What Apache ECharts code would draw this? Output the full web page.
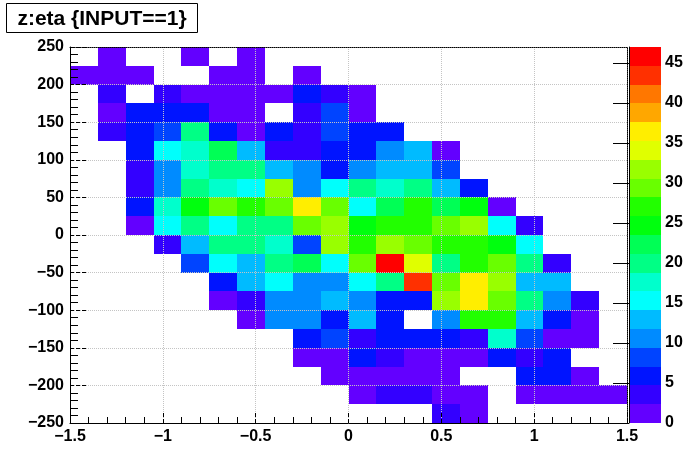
<!DOCTYPE html>
<html>
<head>
<meta charset="utf-8">
<script src="https://cdn.jsdelivr.net/npm/echarts@6/dist/echarts.min.js"></script>
<style>
html,body{margin:0;padding:0;background:#fff;}
#c{width:696px;height:472px;}
</style>
</head>
<body>
<div id="c"></div>
<script>
// ---- data ----
const titleText = 'z:eta {INPUT==1}';
const etaCenters = [-1.425, -1.275, -1.125, -0.975, -0.825, -0.675, -0.525, -0.375, -0.225, -0.075,
                     0.075, 0.225, 0.375, 0.525, 0.675, 0.825, 0.975, 1.125, 1.275, 1.425];
const zCenters = [237.5, 212.5, 187.5, 162.5, 137.5, 112.5, 87.5, 62.5, 37.5, 12.5,
                  -12.5, -37.5, -62.5, -87.5, -112.5, -137.5, -162.5, -187.5, -212.5, -237.5];
// counts[row][col]; rows follow zCenters (top to bottom), columns follow etaCenters
const counts = [
  [0,1,0,0,1,0,1,0,0,0, 0,0,0,0,0,0,0,0,0,0],
  [1,1,1,0,0,1,1,0,1,0, 0,0,0,0,0,0,0,0,0,0],
  [0,3,0,3,1,1,1,1,6,3, 1,0,0,0,0,0,0,0,0,0],
  [0,1,6,6,6,1,1,0,3,8, 1,0,0,0,0,0,0,0,0,0],
  [0,3,6,8,20,6,1,6,3,8, 6,6,0,0,0,0,0,0,0,0],
  [0,0,6,15,18,22,13,3,3,6, 6,10,13,1,0,0,0,0,0,0],
  [0,0,3,10,18,20,20,13,10,6, 10,13,13,8,0,0,0,0,0,0],
  [0,0,3,10,20,18,15,32,10,15, 20,18,20,13,6,0,0,0,0,0],
  [0,0,6,18,25,29,27,29,36,29, 15,22,27,22,25,1,0,0,0,0],
  [0,0,1,15,20,15,20,20,29,32, 25,27,27,29,32,15,3,0,0,0],
  [0,0,0,3,13,20,20,18,8,32, 27,32,29,27,27,25,15,0,0,0],
  [0,0,0,0,8,15,13,20,22,15, 29,47,34,20,27,29,20,3,0,0],
  [0,0,0,0,0,6,13,15,10,10, 15,20,43,29,36,32,13,13,0,0],
  [0,0,0,0,0,1,3,10,10,13, 10,6,6,32,36,29,20,10,3,0],
  [0,0,0,0,0,0,1,10,10,6, 13,6,0,10,27,27,13,6,1,0],
  [0,0,0,0,0,0,0,0,6,8, 3,6,6,6,3,18,8,1,1,0],
  [0,0,0,0,0,0,0,0,1,1, 6,3,1,1,1,6,3,6,0,0],
  [0,0,0,0,0,0,0,0,0,1, 1,1,1,1,0,0,6,6,1,0],
  [0,0,0,0,0,0,0,0,0,0, 1,3,3,1,1,0,1,1,1,1],
  [0,0,0,0,0,0,0,0,0,0, 0,0,0,3,1,0,0,0,0,0]
];
const paletteTicks = [0, 5, 10, 15, 20, 25, 30, 35, 40, 45];
const zMin = 0;
const zMax = 47;
const nContours = 20;

// ---- palette (ROOT "pretty" violet->red) ----
function contourColor(k) {
  const idx = Math.floor((k + 0.99) * 50 / nContours);
  const hue = idx >= 49 ? 0 : 280 - (idx + 1) * 5.6;
  return 'hsl(' + hue.toFixed(1) + ',100%,50%)';
}
const step = (zMax - zMin) / nContours;
const pieces = [];
const bandData = [];
for (let k = 0; k < nContours; k++) {
  const lo = zMin + k * step, hi = zMin + (k + 1) * step;
  const p = { gte: lo, color: contourColor(k) };
  if (k === nContours - 1) p.lte = hi; else p.lt = hi;
  pieces.push(p);
  bandData.push([lo, hi, k]);
}

const cells = [];
counts.forEach((row, r) => row.forEach((v, c) => {
  if (v > 0) cells.push([etaCenters[c], zCenters[r], v]);
}));
const halfX = Math.abs(etaCenters[1] - etaCenters[0]) / 2;
const halfY = Math.abs(zCenters[0] - zCenters[1]) / 2;

const FONT = '"Liberation Sans", Arial, Helvetica, sans-serif';
const minus = v => String(v).replace('-', '\u2212');
const labelStyle = { fontFamily: FONT, fontWeight: 'bold', fontSize: 16, color: '#000' };

const chart = echarts.init(document.getElementById('c'), null, { renderer: 'canvas' });
chart.setOption({
  animation: false,
  backgroundColor: '#fff',
  grid: [
    { left: 70, right: 69, top: 47, bottom: 49, containLabel: false },
    { left: 629, width: 32, top: 47, bottom: 49, containLabel: false }
  ],
  visualMap: {
    type: 'piecewise', show: false, seriesIndex: 0, dimension: 2, pieces: pieces
  },
  xAxis: [
    {
      gridIndex: 0, type: 'value', min: -1.5, max: 1.5, interval: 0.5, z: 5,
      axisLine: { show: true, onZero: false, lineStyle: { color: '#000', width: 1 } },
      axisTick: { show: true, inside: true, length: 11, lineStyle: { color: '#000', type: 'dashed' } },
      minorTick: { show: true, splitNumber: 5, length: 6, lineStyle: { color: '#000' } },
      splitLine: { show: true, lineStyle: { color: '#c4c4c4', type: 'dotted' } },
      axisLabel: Object.assign({ margin: 6, formatter: minus }, labelStyle)
    },
    {
      gridIndex: 0, type: 'value', min: -1.5, max: 1.5, position: 'top', z: 5,
      axisLine: { show: true, onZero: false, lineStyle: { color: '#000', type: 'dotted' } },
      axisTick: { show: false }, axisLabel: { show: false }, splitLine: { show: false }
    },
    { gridIndex: 1, type: 'value', min: 0, max: 1, show: false }
  ],
  yAxis: [
    {
      gridIndex: 0, type: 'value', min: -250, max: 250, interval: 50, z: 5,
      axisLine: { show: true, onZero: false, lineStyle: { color: '#000', width: 1 } },
      axisTick: { show: true, inside: true, length: 16, lineStyle: { color: '#000', type: 'dashed' } },
      minorTick: { show: true, splitNumber: 5, length: 8, lineStyle: { color: '#000' } },
      splitLine: { show: true, lineStyle: { color: '#c4c4c4', type: 'dotted' } },
      axisLabel: Object.assign({ margin: 6, formatter: minus }, labelStyle)
    },
    {
      gridIndex: 0, type: 'value', min: -250, max: 250, position: 'right', z: 5,
      axisLine: { show: true, onZero: false, lineStyle: { color: '#000', type: 'dotted' } },
      axisTick: { show: false }, axisLabel: { show: false }, splitLine: { show: false }
    },
    {
      gridIndex: 1, type: 'value', min: zMin, max: zMax, interval: 5, position: 'right', z: 5,
      axisLine: { show: true, lineStyle: { color: '#000', width: 1 } },
      axisTick: { show: true, inside: true, length: 16, lineStyle: { color: '#000' },
                  customValues: paletteTicks },
      axisLabel: Object.assign({ margin: 4, customValues: paletteTicks }, labelStyle),
      splitLine: { show: false }
    }
  ],
  series: [
    {
      type: 'custom', xAxisIndex: 0, yAxisIndex: 0, z: 2,
      data: cells,
      encode: { x: 0, y: 1 },
      clip: true,
      renderItem: function (params, api) {
        const x = api.value(0), y = api.value(1);
        const p1 = api.coord([x - halfX, y + halfY]);
        const p2 = api.coord([x + halfX, y - halfY]);
        const x1 = Math.round(p1[0]), y1 = Math.round(p1[1]);
        const x2 = Math.round(p2[0]), y2 = Math.round(p2[1]);
        return { type: 'rect', shape: { x: x1, y: y1, width: x2 - x1, height: y2 - y1 },
                 style: { fill: api.visual('color'), stroke: null } };
      }
    },
    {
      type: 'custom', xAxisIndex: 2, yAxisIndex: 2, z: 2,
      data: bandData,
      encode: { y: [0, 1] },
      renderItem: function (params, api) {
        const lo = api.value(0), hi = api.value(1), k = api.value(2);
        const p1 = api.coord([0, hi]);
        const p2 = api.coord([1, lo]);
        const x1 = Math.round(p1[0]), y1 = Math.round(p1[1]);
        const x2 = Math.round(p2[0]), y2 = Math.round(p2[1]);
        return { type: 'rect', shape: { x: x1, y: y1, width: x2 - x1, height: y2 - y1 },
                 style: { fill: contourColor(k), stroke: null } };
      }
    }
  ],
  graphic: [
    {
      type: 'group', left: 6, top: 3,
      children: [
        { type: 'rect', shape: { x: 0.5, y: 0.5, width: 191, height: 29 },
          style: { fill: '#fff', stroke: '#000', lineWidth: 1 } },
        { type: 'text', x: 96, y: 16,
          style: { text: titleText, fontFamily: FONT, fontWeight: 'bold', fontSize: 21,
                   fill: '#000', align: 'center', verticalAlign: 'middle' } }
      ]
    }
  ]
});
</script>
</body>
</html>
